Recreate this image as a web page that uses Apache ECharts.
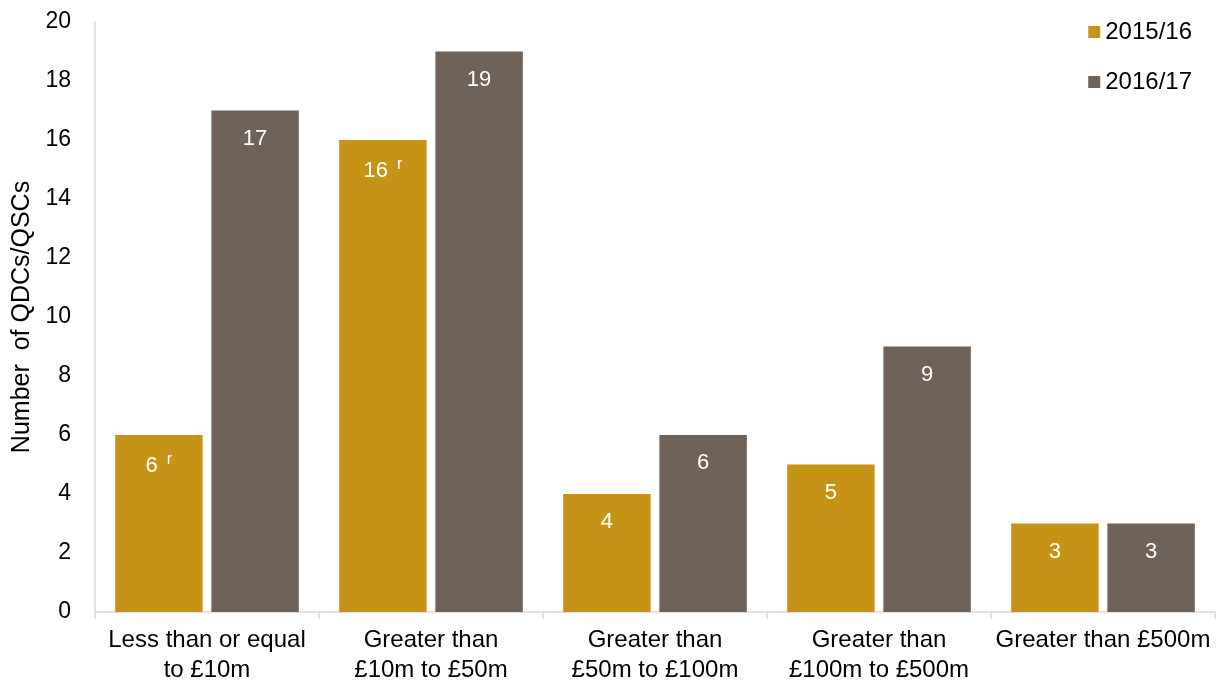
<!DOCTYPE html>
<html>
<head>
<meta charset="utf-8">
<script src="https://cdn.jsdelivr.net/npm/echarts@6/dist/echarts.min.js"></script>
<style>
  html, body { margin: 0; padding: 0; background: #fff; }
  #chart { width: 1221px; height: 684px; }
</style>
</head>
<body>
<div id="chart"></div>
<script>
// Size bands of QDCs/QSCs
const categories = [
  'Less than or equal\nto £10m',
  'Greater than\n£10m to £50m',
  'Greater than\n£50m to £100m',
  'Greater than\n£100m to £500m',
  'Greater than £500m'
];
const seriesNames = ['2015/16', '2016/17'];
const values2015 = [6, 16, 4, 5, 3];
const values2016 = [17, 19, 6, 9, 3];
// Revised figures carry an "r" marker
const revised2015 = [true, true, false, false, false];
const revised2016 = [false, false, false, false, false];
const yTicks = { min: 0, max: 20, interval: 2 };

const FONT = '"Liberation Sans", Arial, sans-serif';
const colors = ['#C59316', '#6F6259'];

function labelFor(revised) {
  return {
    show: true,
    position: 'insideTop',
    distance: 17,
    color: '#fff',
    fontFamily: FONT,
    fontSize: 22,
    formatter: p => revised[p.dataIndex] ? '{v|' + p.value + '}{r|r}' : '{v|' + p.value + '}',
    rich: {
      v: { color: '#fff', fontFamily: FONT, fontSize: 22 },
      r: { color: '#fff', fontFamily: FONT, fontSize: 16, verticalAlign: 'top', padding: [0, 0, 12, 9] }
    }
  };
}

const chart = echarts.init(document.getElementById('chart'), null, { renderer: 'canvas' });
chart.setOption({
  animation: false,
  color: colors,
  textStyle: { fontFamily: FONT },
  grid: { left: 95, right: 6, top: 22, bottom: 72, containLabel: false, outerBoundsMode: 'none' },
  legend: {
    orient: 'vertical',
    right: 24,
    top: 15,
    itemWidth: 12,
    itemHeight: 12,
    itemGap: 26,
    icon: 'rect',
    textStyle: { fontFamily: FONT, fontSize: 24, color: '#000' },
    data: seriesNames
  },
  xAxis: {
    type: 'category',
    data: categories,
    axisLine: { lineStyle: { color: '#d9d9d9', width: 1.5 } },
    axisTick: { show: true, length: 7, lineStyle: { color: '#d9d9d9', width: 1.5 } },
    axisLabel: { interval: 0, color: '#000', fontFamily: FONT, fontSize: 24, lineHeight: 30, margin: 13 }
  },
  yAxis: {
    type: 'value',
    min: yTicks.min,
    max: yTicks.max,
    interval: yTicks.interval,
    name: 'Number  of QDCs/QSCs',
    nameLocation: 'middle',
    nameGap: 60,
    nameRotate: 90,
    nameTextStyle: { color: '#000', fontFamily: FONT, fontSize: 25 },
    axisLine: { show: true, lineStyle: { color: '#d9d9d9', width: 1.5 } },
    axisTick: { show: false },
    splitLine: { show: false },
    axisLabel: { color: '#000', fontFamily: FONT, fontSize: 23, margin: 24 }
  },
  series: [
    {
      name: seriesNames[0],
      type: 'bar',
      data: values2015,
      barGap: '10%',
      barCategoryGap: '18%',
      itemStyle: { color: colors[0] },
      label: labelFor(revised2015)
    },
    {
      name: seriesNames[1],
      type: 'bar',
      data: values2016,
      itemStyle: { color: colors[1] },
      label: labelFor(revised2016)
    }
  ]
});
</script>
</body>
</html>
